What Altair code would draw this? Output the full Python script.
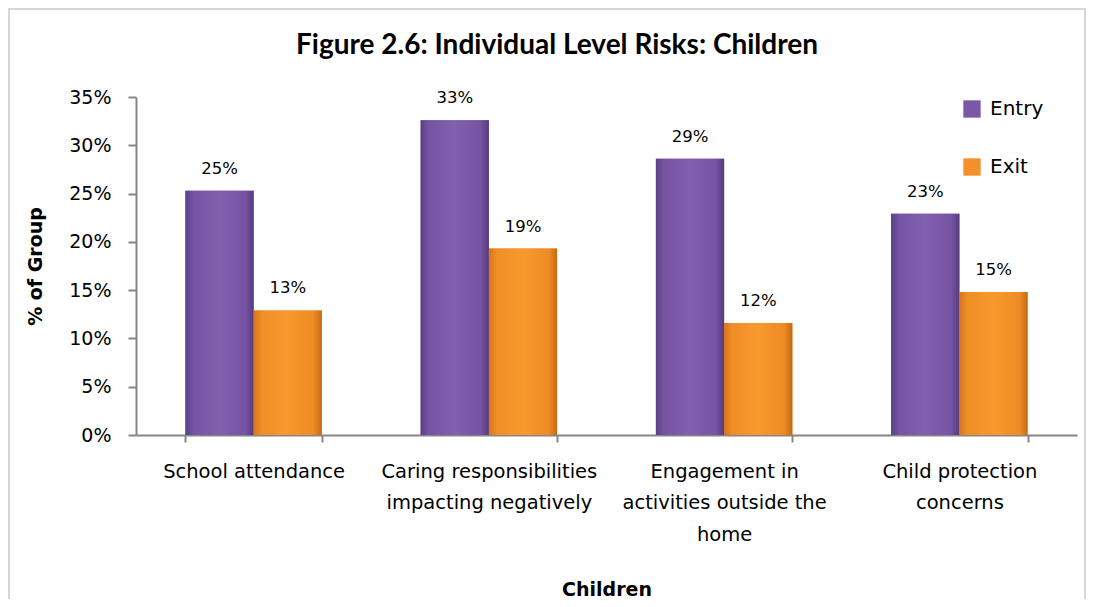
import altair as alt
import pandas as pd

title_text = "Figure 2.6: Individual Level Risks: Children"
categories = [
    "School attendance",
    "Caring responsibilities impacting negatively",
    "Engagement in activities outside the home",
    "Child protection concerns",
]
label_lines = [
    ["School attendance"],
    ["Caring responsibilities", "impacting negatively"],
    ["Engagement in", "activities outside the", "home"],
    ["Child protection", "concerns"],
]
series = ["Entry", "Exit"]
entry_values = [25.3, 32.6, 28.6, 22.9]
exit_values = [12.9, 19.3, 11.6, 14.8]

rows = []
for c, e, x in zip(categories, entry_values, exit_values):
    rows.append({"category": c, "series": "Entry", "value": e})
    rows.append({"category": c, "series": "Exit", "value": x})
df = pd.DataFrame(rows)

lookup = "{" + ", ".join(
    "'" + c + "': [" + ", ".join("'" + l + "'" for l in lines) + "]"
    for c, lines in zip(categories, label_lines)
) + "}"

FONT = "DejaVu Sans"
W, H = 941, 338

purple_grad = alt.Gradient(
    gradient="linear", x1=0, x2=1, y1=0, y2=0,
    stops=[
        alt.GradientStop(offset=0, color="#5b4086"),
        alt.GradientStop(offset=0.12, color="#7654a3"),
        alt.GradientStop(offset=0.5, color="#8160ae"),
        alt.GradientStop(offset=0.88, color="#7753a3"),
        alt.GradientStop(offset=1, color="#553b7d"),
    ],
)
orange_grad = alt.Gradient(
    gradient="linear", x1=0, x2=1, y1=0, y2=0,
    stops=[
        alt.GradientStop(offset=0, color="#d6761b"),
        alt.GradientStop(offset=0.12, color="#f18e27"),
        alt.GradientStop(offset=0.5, color="#f8992e"),
        alt.GradientStop(offset=0.88, color="#ef8b24"),
        alt.GradientStop(offset=1, color="#c46a14"),
    ],
)

x_enc = alt.X(
    "category:N", sort=categories,
    scale=alt.Scale(paddingInner=0.42, paddingOuter=0.21),
    axis=alt.Axis(
        title="Children", labelAngle=0, labelExpr=lookup + "[datum.label]",
        labelFontSize=19.5, labelLineHeight=31.5, labelPadding=20,
        labelBaseline="top", titleFontSize=19, titleFontWeight="bold",
        titlePadding=37, tickBand="extent", tickSize=7, labelLimit=300,
    ),
)
xo_enc = alt.XOffset(
    "series:N", sort=series,
    scale=alt.Scale(domain=series, paddingInner=0, paddingOuter=0),
)
y_enc = alt.Y(
    "value:Q",
    scale=alt.Scale(domain=[0, 35], nice=False),
    axis=alt.Axis(
        title="% of Group", values=[0, 5, 10, 15, 20, 25, 30, 35],
        labelExpr="datum.value + '%'", labelFontSize=19, labelPadding=17,
        titleFontSize=19, titleFontWeight="bold", titlePadding=23,
        grid=False, tickSize=8,
    ),
)

base = alt.Chart(df).encode(x=x_enc, xOffset=xo_enc, y=y_enc)

legend_bars = base.mark_bar().encode(
    color=alt.Color(
        "series:N", sort=series,
        scale=alt.Scale(domain=series, range=["#7a57a7", "#f39029"]),
        legend=alt.Legend(
            title=None, orient="none", legendX=826, legendY=2,
            symbolType="square", symbolSize=300, symbolStrokeWidth=0,
            labelFontSize=20, rowPadding=38, labelOffset=8,
        ),
    )
)
entry_bars = base.transform_filter("datum.series == 'Entry'").mark_bar(fill=purple_grad)
exit_bars = base.transform_filter("datum.series == 'Exit'").mark_bar(fill=orange_grad)

labels = base.transform_calculate(
    label="format(datum.value, '.0f') + '%'"
).mark_text(dy=-14, baseline="bottom", fontSize=16.5, font=FONT, color="#000000").encode(
    text="label:N"
)

frame = alt.Chart(df).mark_rect(
    fill="transparent", stroke="#d6d6d6", strokeWidth=2
).encode(
    x=alt.value(-127), x2=alt.value(W + 8), y=alt.value(-88), y2=alt.value(H + 200)
)

title = alt.Chart(pd.DataFrame({"t": [title_text]})).mark_text(
    font="Lato", fontSize=28, fontWeight="bold",
    align="center", baseline="alphabetic", color="#000000",
).encode(text="t:N", x=alt.value(421), y=alt.value(-43))

chart = alt.layer(frame, legend_bars, entry_bars, exit_bars, labels, title).properties(
    width=W, height=H,
    autosize=alt.AutoSizeParams(type="none"),
    padding={"left": 128, "top": 89, "right": 9, "bottom": 164},
).configure_view(stroke=None).configure_axis(
    domainColor="#868686", tickColor="#868686", domainWidth=2, tickWidth=2,
    labelFont=FONT, titleFont=FONT, labelColor="#000000", titleColor="#000000",
).configure_legend(labelFont=FONT, labelColor="#000000")

chart.save("out.html", embed_options={"renderer": "svg", "actions": False})
